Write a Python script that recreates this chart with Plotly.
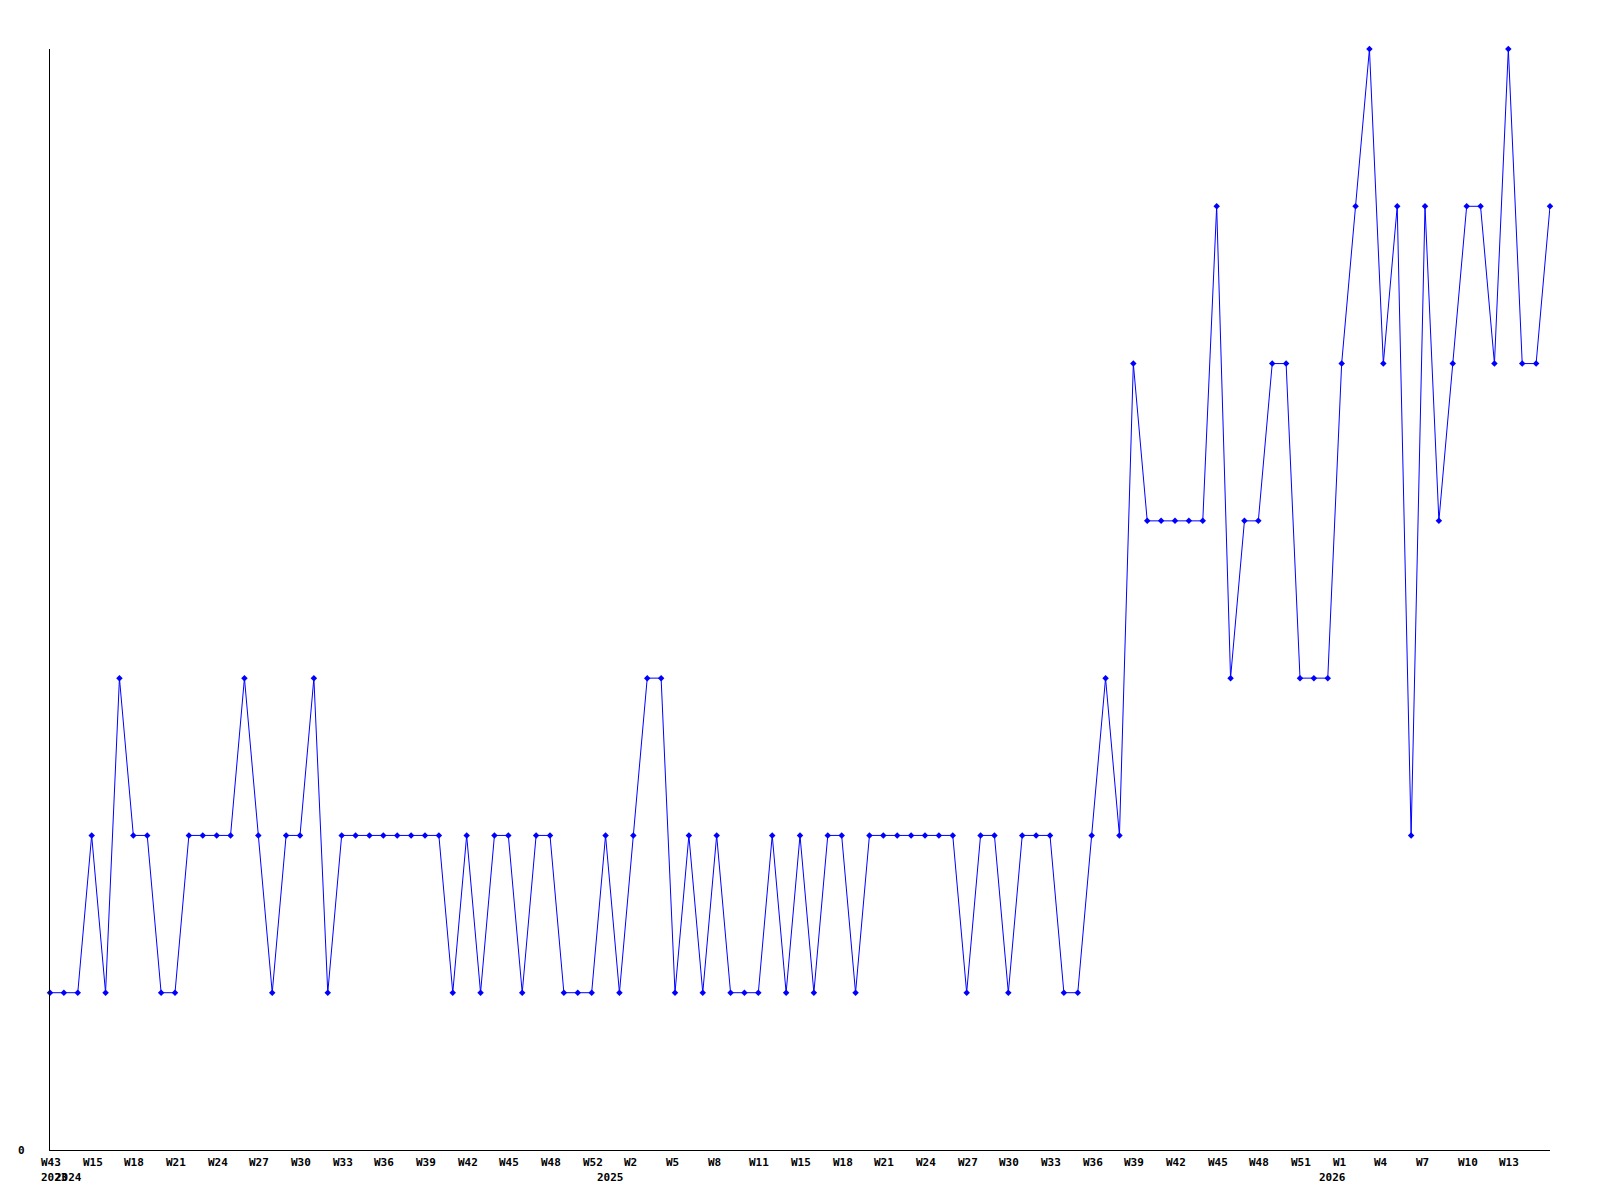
import plotly.graph_objects as go

# Weekly counts (index 0 = 2023 W43, then 2024 W13 ... 2026)
values = [1, 1, 1, 2, 1, 3, 2, 2, 1, 1,
          2, 2, 2, 2, 3, 2, 1, 2, 2, 3,
          1, 2, 2, 2, 2, 2, 2, 2, 2, 1,
          2, 1, 2, 2, 1, 2, 2, 1, 1, 1,
          2, 1, 2, 3, 3, 1, 2, 1, 2, 1,
          1, 1, 2, 1, 2, 1, 2, 2, 1, 2,
          2, 2, 2, 2, 2, 2, 1, 2, 2, 1,
          2, 2, 2, 1, 1, 2, 3, 2, 5, 4,
          4, 4, 4, 4, 6, 3, 4, 4, 5, 5,
          3, 3, 3, 5, 6, 7, 5, 6, 2, 6,
          4, 5, 6, 6, 5, 7, 5, 5, 6]
x_index = list(range(len(values)))

tick_positions = list(range(0, 108, 3))
tick_labels = ["W43", "W15", "W18", "W21", "W24", "W27", "W30", "W33", "W36",
               "W39", "W42", "W45", "W48", "W52", "W2", "W5", "W8", "W11",
               "W15", "W18", "W21", "W24", "W27", "W30", "W33", "W36", "W39",
               "W42", "W45", "W48", "W51", "W1", "W4", "W7", "W10", "W13"]
year_positions = [0, 1, 40, 92]
year_labels = ["2023", "2024", "2025", "2026"]

FONT = dict(family="DejaVu Sans Mono", size=11, color="black")

fig = go.Figure()
fig.add_trace(go.Scatter(
    x=x_index, y=values, mode="lines+markers",
    line=dict(color="#0000ff", width=1),
    marker=dict(symbol="diamond", size=5, color="#0000ff"),
    cliponaxis=False, hoverinfo="skip", showlegend=False,
))

annotations = []
for pos, lab in zip(tick_positions, tick_labels):
    annotations.append(dict(x=pos, y=0, xref="x", yref="paper", text="<b>%s</b>" % lab,
                            showarrow=False, xanchor="left", yanchor="middle",
                            xshift=-11, yshift=-12, font=FONT))
for pos, lab in zip(year_positions, year_labels):
    annotations.append(dict(x=pos, y=0, xref="x", yref="paper", text="<b>%s</b>" % lab,
                            showarrow=False, xanchor="left", yanchor="middle",
                            xshift=-11, yshift=-27, font=FONT))
annotations.append(dict(x=0, y=0, xref="paper", yref="y", text="<b>0</b>",
                        showarrow=False, xanchor="right", yanchor="middle",
                        xshift=-23, font=FONT))

fig.update_layout(
    width=1600, height=1200,
    margin=dict(l=50, r=50, t=49, b=50),
    paper_bgcolor="white", plot_bgcolor="white",
    xaxis=dict(range=[0, 108], showgrid=False, zeroline=False, showline=True,
               linecolor="black", linewidth=1, showticklabels=False, ticks=""),
    yaxis=dict(range=[0, 7], showgrid=False, zeroline=False, showline=True,
               linecolor="black", linewidth=1, showticklabels=False, ticks=""),
    annotations=annotations,
)

fig.write_html("out.html", config={"displayModeBar": False},
               post_script="document.body.style.margin='0';document.body.style.overflow='hidden';")
